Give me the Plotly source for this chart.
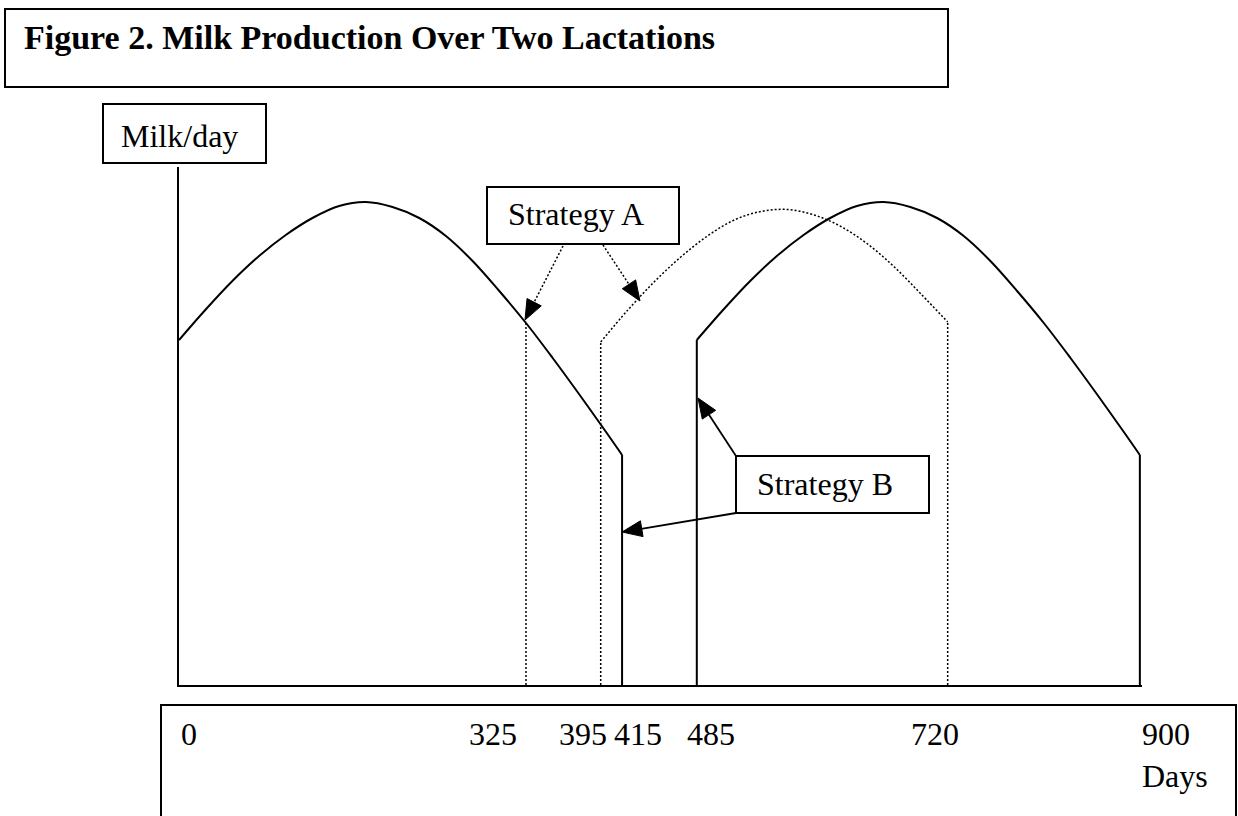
import math
import plotly.graph_objects as go

# ---------------- data ----------------
# lactation curve (days in milk -> milk/day, arbitrary units), solid curves
dim_solid = [0, 25, 50, 75, 100, 125, 150, 175, 200, 225, 250, 275, 300, 325, 350, 375, 400, 415]
milk_solid = [34.5, 37.55, 40.4, 42.9, 45.0, 46.7, 47.9, 48.3, 47.8, 46.7, 44.9, 42.4, 39.4, 36.2, 32.7, 29.05, 25.3, 23.0]

# Strategy A second lactation (dotted), days in milk -> milk/day
dim_a2 = [0, 25, 50, 75, 100, 125, 150, 175, 200, 225, 250, 275, 300, 325]
milk_a2 = [34.3, 37.45, 40.3, 42.8, 44.9, 46.5, 47.35, 47.55, 47.0, 45.85, 44.1, 41.8, 39.1, 36.3]

# key days
strategy_a_days = [325, 395, 720]   # dry-off, calving, dry-off
strategy_b_days = [415, 485, 900]   # dry-off, calving, end

tick_labels = ["0", "325", "395", "415", "485", "720", "900"]
axis_unit = "Days"
y_label = "Milk/day"
title_text = "Figure 2. Milk Production Over Two Lactations"
label_a = "Strategy A"
label_b = "Strategy B"

# ---------------- layout geometry (pixels) ----------------
W, H = 1238, 816
L_M, R_M, T_M, B_M = 179, 96, 167, 131
PW, PH = W - L_M - R_M, H - T_M - B_M
X_RANGE = [0, 902]
Y_RANGE = [0, 51.8]


def px(x):
    return (x - L_M) / PW


def py(y):
    return (H - B_M - y) / PH


SERIF = "Liberation Serif, Times New Roman, serif"
BLACK = "#000000"

fig = go.Figure()

solid = dict(color=BLACK, width=2)
dotted = dict(color=BLACK, width=1.5, dash="2px,2px")


def curve(xs, ys, line):
    fig.add_trace(go.Scatter(x=xs, y=ys, mode="lines", line=dict(shape="spline", smoothing=1.0, **line),
                             hoverinfo="skip", showlegend=False))


def vline(day, top, line):
    fig.add_trace(go.Scatter(x=[day, day], y=[0, top], mode="lines", line=line,
                             hoverinfo="skip", showlegend=False))


# first lactation (solid, continues to Strategy B dry-off)
curve(dim_solid, milk_solid, solid)
vline(strategy_b_days[0], milk_solid[-1], solid)

# Strategy A: dry-off at 325, calving at 395, dry-off at 720 (dotted)
vline(strategy_a_days[0], milk_solid[dim_solid.index(strategy_a_days[0])], dotted)
curve([strategy_a_days[1] + d for d in dim_a2], milk_a2, dotted)
vline(strategy_a_days[1], milk_a2[0], dotted)
vline(strategy_a_days[2], milk_a2[-1], dotted)

# Strategy B: second lactation from 485 to 900 (solid)
curve([strategy_b_days[1] + d for d in dim_solid], milk_solid, solid)
vline(strategy_b_days[1], milk_solid[0], solid)
vline(strategy_b_days[2], milk_solid[-1], solid)

shapes = []
annotations = []


def box(x0, y0, x1, y1, w=2):
    shapes.append(dict(type="rect", xref="paper", yref="paper",
                       x0=px(x0), x1=px(x1), y0=py(y1), y1=py(y0),
                       line=dict(color=BLACK, width=w), fillcolor="rgba(0,0,0,0)", layer="above"))


def text(x, y_center, s, size=32, bold=False):
    annotations.append(dict(xref="paper", yref="paper", x=px(x), y=py(y_center),
                            xanchor="left", yanchor="middle", align="left", showarrow=False,
                            text=("<b>%s</b>" % s) if bold else s,
                            font=dict(family=SERIF, size=size, color=BLACK)))


def arrow(p0, p1, dash=None, width=1.8, hl=20, hw=8):
    (x0, y0), (x1, y1) = p0, p1
    dx, dy = x1 - x0, y1 - y0
    n = math.hypot(dx, dy)
    ux, uy = dx / n, dy / n
    bx, by = x1 - hl * ux, y1 - hl * uy
    nx, ny = -uy, ux
    line = dict(color=BLACK, width=width)
    if dash:
        line["dash"] = dash
    shapes.append(dict(type="line", xref="paper", yref="paper",
                       x0=px(x0), y0=py(y0), x1=px(bx + 2 * ux), y1=py(by + 2 * uy), line=line))
    c1 = (bx + hw * nx, by + hw * ny)
    c2 = (bx - hw * nx, by - hw * ny)
    path = "M %f %f L %f %f L %f %f Z" % (px(x1), py(y1), px(c1[0]), py(c1[1]), px(c2[0]), py(c2[1]))
    shapes.append(dict(type="path", xref="paper", yref="paper", path=path,
                       fillcolor=BLACK, line=dict(color=BLACK, width=1)))


# title box
box(5, 9, 948, 87)
text(22, 38, title_text, size=34, bold=True)

# y label box
box(103, 104, 266, 163)
text(119, 136, y_label)

# Strategy A box + dotted arrows
box(487, 187, 679, 244)
text(506, 214, label_a)
arrow((563, 246), (525, 320), dash="2px,2px", width=1.5)
arrow((603, 245), (640, 301), dash="2px,2px", width=1.5)

# Strategy B box + solid arrows
box(736, 456, 929, 513)
text(755, 484, label_b)
arrow((736, 456), (698, 398))
arrow((736, 513), (622, 532))

# bottom axis-label box
box(161, 705, 1236, 840)
tick_px = [179, 467, 557, 612, 685, 909, 1140]
for lab, xp in zip(tick_labels[:-1], tick_px[:-1]):
    text(xp, 734, lab)
# last tick label with the axis unit underneath (two-line text)
text(tick_px[-1], 755, tick_labels[-1] + "<br>" + axis_unit)

fig.update_layout(
    width=W, height=H, autosize=False,
    margin=dict(l=L_M, r=R_M, t=T_M, b=B_M, pad=0),
    paper_bgcolor="white", plot_bgcolor="white",
    xaxis=dict(range=X_RANGE, showline=True, linecolor=BLACK, linewidth=2, showgrid=False,
               zeroline=False, showticklabels=False, ticks="", fixedrange=True),
    yaxis=dict(range=Y_RANGE, showline=True, linecolor=BLACK, linewidth=1.5, showgrid=False,
               zeroline=False, showticklabels=False, ticks="", fixedrange=True),
    shapes=shapes, annotations=annotations, showlegend=False,
)

fig.write_html("out.html", config={"displayModeBar": False},
               post_script="document.body.style.margin='0';")
